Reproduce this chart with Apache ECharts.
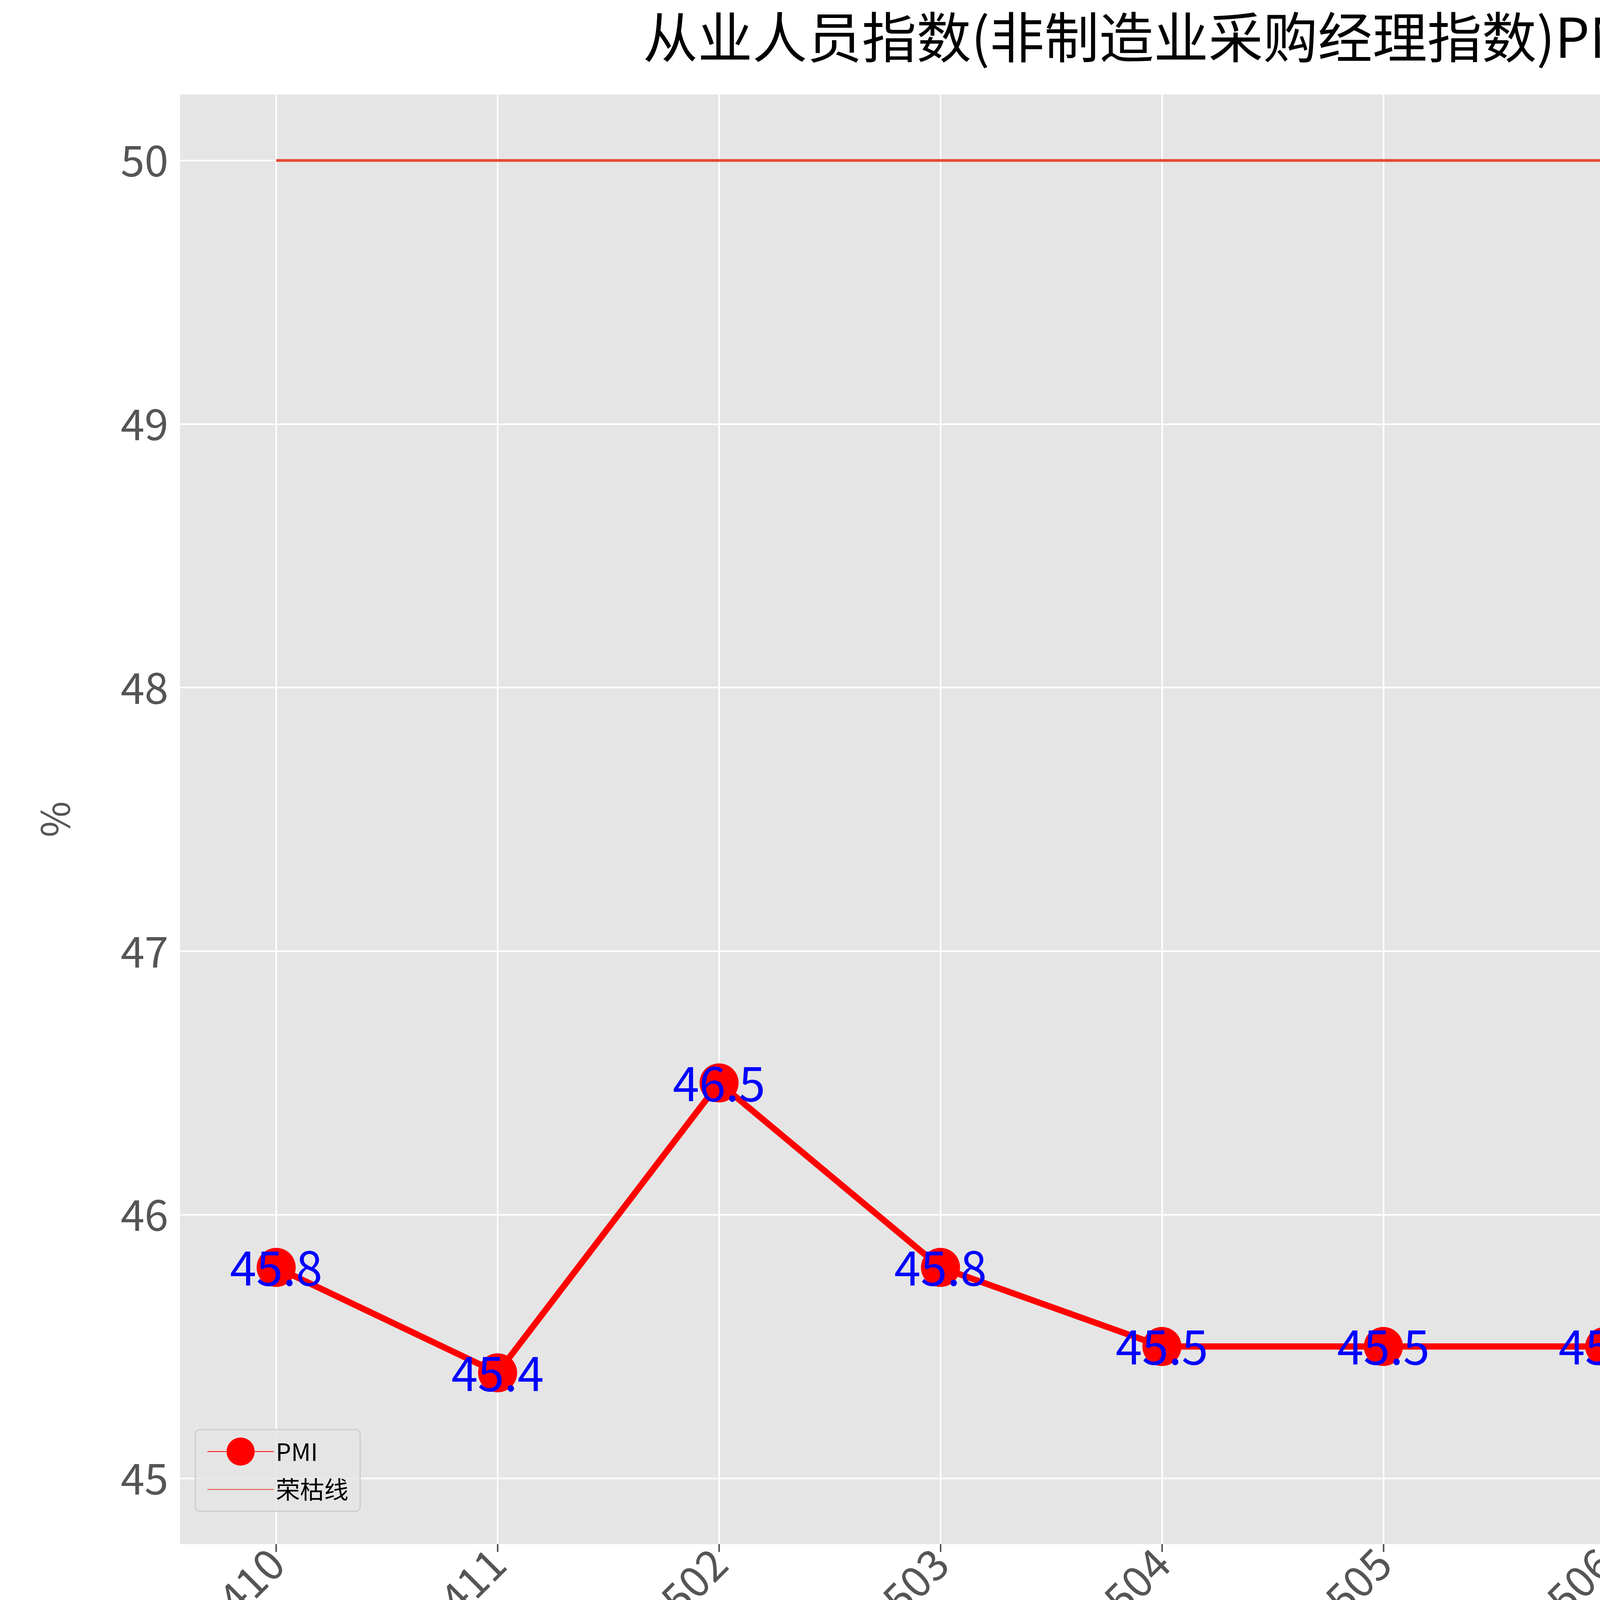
<!DOCTYPE html>
<html><head><meta charset="utf-8">
<script src="https://cdn.jsdelivr.net/npm/echarts@6/dist/echarts.min.js"></script>
<style>html,body{margin:0;padding:0;background:#fff}#c{width:6094px;height:4505px}</style>
</head><body><div id="c"></div>
<script>
const categories = ['202410','202411','202502','202503','202504','202505','202506','202507','202508','202509'];
const pmi = [45.8,45.4,46.5,45.8,45.5,45.5,45.5,45.6,45.6,45.0];
const threshold = 50;
const yTicks = [45,46,47,48,49,50];
const FONT = '"Noto Sans CJK SC", sans-serif';
const xIdx = categories.map((c,i)=>i);
const chart = echarts.init(document.getElementById('c'));
chart.setOption({
  backgroundColor:'#fff',
  animation:false,
  title:{text:'从业人员指数(非制造业采购经理指数)PMI(%)',left:'center',top:20,
    textStyle:{fontFamily:FONT,fontSize:140,fontWeight:'normal',color:'#000'}},
  grid:{left:461,right:47,top:242,bottom:552,backgroundColor:'#E5E5E5',show:true,borderWidth:0},
  xAxis:{type:'value',min:-0.434,max:9.42,
    axisLine:{show:false},splitLine:{show:false},
    axisTick:{show:true,customValues:xIdx,length:20,lineStyle:{color:'#555',width:4}},
    axisLabel:{customValues:xIdx,formatter:v=>categories[Math.round(v)],rotate:45,
      fontSize:110,color:'#555',fontFamily:FONT,margin:30}},
  yAxis:{type:'value',min:44.75,max:50.25,name:'%',nameLocation:'middle',nameGap:270,
    nameTextStyle:{fontSize:100,color:'#555',fontFamily:FONT},
    axisLine:{show:false},splitLine:{show:false},
    axisTick:{show:true,customValues:yTicks,length:20,lineStyle:{color:'#555',width:4}},
    axisLabel:{customValues:yTicks,fontSize:110,color:'#555',fontFamily:FONT,margin:30}},
  legend:{left:500,top:3660,orient:'vertical',backgroundColor:'rgba(229,229,229,0.8)',
    borderColor:'#ccc',borderWidth:3,borderRadius:12,padding:[20,30],itemGap:25,
    itemWidth:170,itemHeight:90,textStyle:{fontSize:62,fontFamily:FONT,color:'#000'},
    data:['PMI',{name:'荣枯线',itemStyle:{opacity:0}}]},
  series:[
    {name:'grid',type:'line',data:[],silent:true,z:1,
      markLine:{silent:true,symbol:'none',label:{show:false},z:1,
        lineStyle:{color:'#fff',width:4,type:'solid'},
        data:[...yTicks.map(v=>({yAxis:v})),...xIdx.map(v=>({xAxis:v}))]}},
    {name:'荣枯线',type:'line',showSymbol:false,symbol:'none',
      data:[[0,threshold],[categories.length-1,threshold]],
      lineStyle:{color:'#E24A33',width:7},itemStyle:{color:'#E24A33'},z:4},
    {name:'PMI',type:'line',data:pmi.map((v,i)=>[i,v]),symbol:'circle',symbolSize:100,
      lineStyle:{color:'#FF0000',width:16},itemStyle:{color:'#FF0000'},z:5,
      label:{show:true,position:'inside',formatter:p=>p.value[1].toFixed(1),
        fontSize:122,color:'#0000FF',fontFamily:FONT}}
  ]
});
</script></body></html>
